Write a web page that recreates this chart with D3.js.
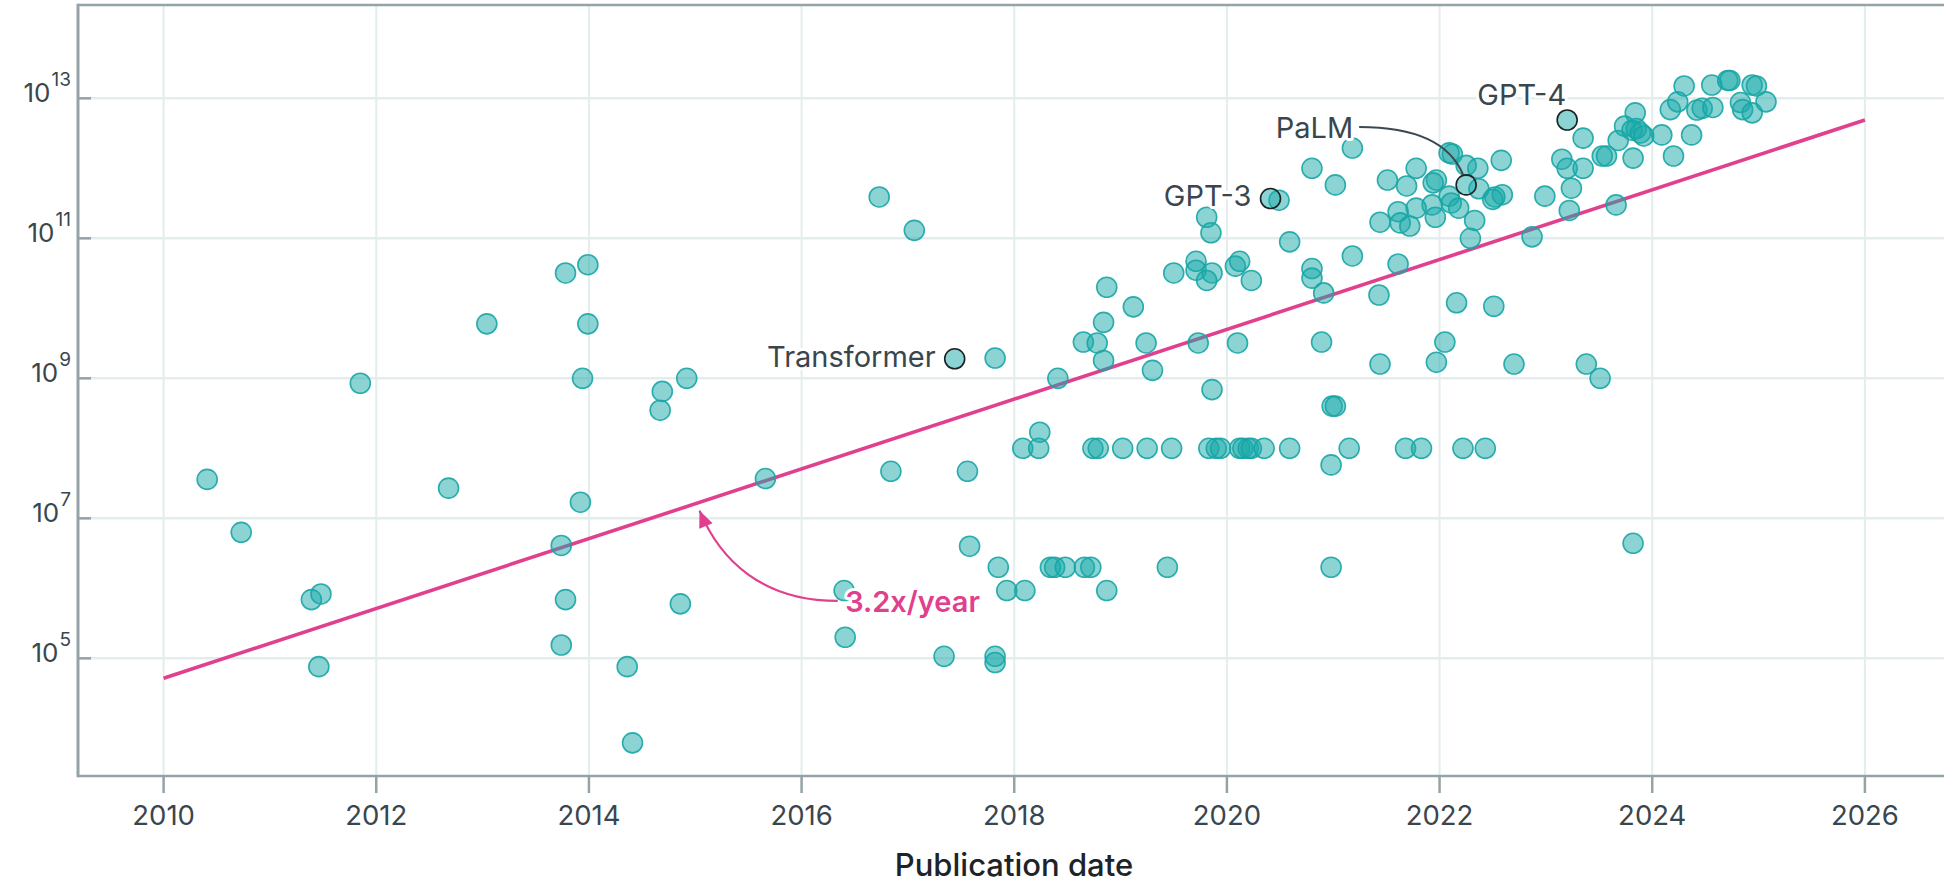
<!DOCTYPE html>
<html>
<head>
<meta charset="utf-8">
<script src="https://cdn.jsdelivr.net/npm/d3@7"></script>
<style>
  html, body { margin: 0; padding: 0; background: #ffffff; }
  svg { display: block; }
  text { font-family: Inter, Roboto, "Noto Sans", sans-serif; }
</style>
</head>
<body>
<svg id="chart" width="1944" height="885"></svg>
<script>
// ---------------- DATA ----------------
// Publication date (decimal year) and dataset size
const years = [
  2010.41, 2010.73, 2011.39, 2011.48, 2011.46, 2011.85, 2012.68, 2013.04,
  2013.78, 2013.99, 2013.99, 2013.94, 2013.92, 2013.74, 2013.78, 2013.74,
  2014.69, 2014.67, 2014.92, 2014.36, 2014.41, 2014.86, 2015.66, 2016.84,
  2016.40, 2016.41, 2016.73, 2017.06, 2017.56, 2017.58, 2017.85, 2017.93,
  2017.34, 2017.82, 2017.82, 2017.82, 2018.10,
  // 2e6 row
  2018.34, 2018.38, 2018.48, 2018.66, 2018.72, 2019.44, 2020.98, 2018.87,
  // 1e8 row
  2018.08, 2018.23, 2018.74, 2018.79, 2019.02, 2019.25, 2019.48, 2019.83,
  2019.90, 2019.94, 2020.12, 2020.15, 2020.20, 2020.23, 2020.35, 2020.59,
  2021.15, 2021.68, 2021.83, 2022.22, 2022.43,
  2018.24, 2020.98, 2018.41,
  2018.87, 2019.12, 2018.84, 2018.65, 2018.78, 2018.84, 2019.24, 2019.30,
  2019.73, 2020.10, 2019.86, 2019.50, 2019.71, 2019.71, 2019.86, 2019.81,
  2020.08, 2020.12, 2020.23, 2019.81, 2019.85, 2020.59, 2021.18, 2020.80,
  2020.80, 2020.91, 2020.89, 2020.99, 2021.02, 2020.49, 2020.80, 2021.02,
  2021.18, 2021.43, 2021.61, 2022.16, 2022.51, 2022.05, 2021.97, 2021.44,
  2022.70, 2023.38, 2023.51, 2023.82,
  // 2021-2023 cluster
  2021.51, 2021.69, 2021.78, 2022.09, 2022.12, 2022.25, 2022.36, 2022.58,
  2021.97, 2021.94, 2022.37, 2022.52, 2022.59, 2022.50, 2022.09, 2022.11,
  2022.18, 2021.93, 2021.96, 2021.78, 2021.61, 2021.63, 2021.72, 2021.44,
  2022.33, 2022.29, 2022.87, 2022.99,
  // 2023-2025 cluster
  2023.35, 2023.15, 2023.20, 2023.35, 2023.24, 2023.22, 2023.66, 2023.53,
  2023.57, 2023.68, 2023.74, 2023.84, 2023.81, 2023.85, 2023.89, 2023.92,
  2023.82, 2024.09, 2024.20, 2024.37, 2024.17, 2024.24, 2024.30, 2024.42,
  2024.47, 2024.57, 2024.56, 2024.71, 2024.73, 2024.83, 2024.85, 2024.94,
  2024.98, 2024.94, 2025.07
];
const values = [
  3.6e7, 6.3e6, 6.9e5, 8.3e5, 7.6e4, 8.5e8, 2.7e7, 6.0e9,
  3.2e10, 4.2e10, 6.0e9, 1.0e9, 1.7e7, 4.1e6, 6.9e5, 1.55e5,
  6.5e8, 3.5e8, 1.0e9, 7.6e4, 6.2e3, 6.0e5, 3.7e7, 4.7e7,
  9.3e5, 2.0e5, 3.9e11, 1.3e11, 4.7e7, 4.0e6, 2.0e6, 9.3e5,
  1.07e5, 1.07e5, 8.7e4, 1.95e9, 9.3e5,
  2.0e6, 2.0e6, 2.0e6, 2.0e6, 2.0e6, 2.0e6, 2.0e6, 9.3e5,
  1.0e8, 1.0e8, 1.0e8, 1.0e8, 1.0e8, 1.0e8, 1.0e8, 1.0e8,
  1.0e8, 1.0e8, 1.0e8, 1.0e8, 1.0e8, 1.0e8, 1.0e8, 1.0e8,
  1.0e8, 1.0e8, 1.0e8, 1.0e8, 1.0e8,
  1.7e8, 5.8e7, 1.0e9,
  2.0e10, 1.05e10, 6.3e9, 3.3e9, 3.2e9, 1.8e9, 3.2e9, 1.3e9,
  3.2e9, 3.2e9, 6.9e8, 3.2e10, 4.7e10, 3.5e10, 3.2e10, 2.5e10,
  4.0e10, 4.7e10, 2.5e10, 2.0e11, 1.2e11, 8.9e10, 5.6e10, 3.7e10,
  2.7e10, 1.66e10, 3.3e9, 4.0e8, 4.0e8, 3.5e11, 1.0e12, 5.8e11,
  1.95e12, 1.55e10, 4.3e10, 1.2e10, 1.07e10, 3.3e9, 1.7e9, 1.6e9,
  1.6e9, 1.6e9, 1.0e9, 4.4e6,
  6.8e11, 5.6e11, 1.0e12, 1.66e12, 1.6e12, 1.1e12, 1.0e12, 1.3e12,
  6.8e11, 6.2e11, 5.1e11, 3.9e11, 4.2e11, 3.6e11, 4.0e11, 3.2e11,
  2.7e11, 3.0e11, 2.0e11, 2.7e11, 2.4e11, 1.66e11, 1.5e11, 1.7e11,
  1.8e11, 1.0e11, 1.05e11, 4.0e11,
  2.7e12, 1.35e12, 1.0e12, 1.0e12, 5.2e11, 2.5e11, 3.0e11, 1.5e12,
  1.5e12, 2.5e12, 4.0e12, 6.2e12, 3.5e12, 3.7e12, 3.2e12, 2.9e12,
  1.4e12, 3.0e12, 1.5e12, 3.0e12, 6.9e12, 8.9e12, 1.5e13, 6.8e12,
  7.2e12, 7.4e12, 1.55e13, 1.8e13, 1.8e13, 8.7e12, 6.9e12, 1.55e13,
  1.5e13, 6.2e12, 8.9e12
];

// Highlighted models
const highlightNames  = ["Transformer", "GPT-3", "PaLM", "GPT-4"];
const highlightYears  = [2017.44, 2020.41, 2022.25, 2023.20];
const highlightValues = [1.9e9, 3.7e11, 5.8e11, 4.9e12];

// Trend line (3.2x per year)
const trendYears  = [2010, 2026];
const trendValues = [5.2e4, 4.9e12];
const trendLabel  = "3.2x/year";
// annotation: label anchor and arrow from label to line (data space)
const trendLabelPos  = [2016.41, 4.6e5];
const trendArrowFrom = [2016.34, 6.6e5];
const trendArrowTo   = [2015.04, 1.29e7];

// Axes
const xTickYears = [2010, 2012, 2014, 2016, 2018, 2020, 2022, 2024, 2026];
const yTickExponents = [5, 7, 9, 11, 13];
const xTitle = "Publication date";

// ---------------- CHART ----------------
(function () {
const mLeft = 78, mTop = 5, mBottom = 776, mRight = 1944;

const x = d3.scaleLinear().domain([2009.195, 2026.744]).range([mLeft, mRight]);
const y = d3.scaleLog().domain([2.084e3, 2.153e14]).range([mBottom, mTop]);

const svg = d3.select("#chart");
const axisColor = "#95a3a9";
const gridColor = "#e3eded";
const textColor = "#3a464e";
const pink = "#e0408d";

// Grid
const grid = svg.append("g");
grid.selectAll("line.vx").data(xTickYears).join("line")
  .attr("x1", d => x(d)).attr("x2", d => x(d))
  .attr("y1", mTop).attr("y2", mBottom)
  .attr("stroke", gridColor).attr("stroke-width", 2);
grid.selectAll("line.hy").data(yTickExponents).join("line")
  .attr("x1", mLeft).attr("x2", mRight)
  .attr("y1", d => y(Math.pow(10, d))).attr("y2", d => y(Math.pow(10, d)))
  .attr("stroke", gridColor).attr("stroke-width", 2.5);

// Frame: top, left, bottom
svg.append("line").attr("x1", mLeft).attr("x2", mRight).attr("y1", mTop).attr("y2", mTop)
  .attr("stroke", axisColor).attr("stroke-width", 2.5);
svg.append("line").attr("x1", mLeft).attr("x2", mLeft).attr("y1", mTop - 1.2).attr("y2", mBottom + 1.2)
  .attr("stroke", axisColor).attr("stroke-width", 3);
svg.append("line").attr("x1", mLeft).attr("x2", mRight).attr("y1", mBottom).attr("y2", mBottom)
  .attr("stroke", axisColor).attr("stroke-width", 2.5);

// X axis ticks & labels
const xa = svg.append("g");
xa.selectAll("line").data(xTickYears).join("line")
  .attr("x1", d => x(d)).attr("x2", d => x(d))
  .attr("y1", mBottom).attr("y2", mBottom + 17)
  .attr("stroke", axisColor).attr("stroke-width", 2.5);
xa.selectAll("text").data(xTickYears).join("text")
  .attr("x", d => x(d)).attr("y", 825)
  .attr("text-anchor", "middle")
  .attr("font-size", 27.5).attr("fill", textColor)
  .text(d => d);

// Y axis ticks & labels (10^n)
const ya = svg.append("g");
ya.selectAll("line").data(yTickExponents).join("line")
  .attr("x1", mLeft).attr("x2", mLeft + 13)
  .attr("y1", d => y(Math.pow(10, d))).attr("y2", d => y(Math.pow(10, d)))
  .attr("stroke", axisColor).attr("stroke-width", 2.5);
const yl = ya.selectAll("text").data(yTickExponents).join("text")
  .attr("x", 71).attr("y", d => y(Math.pow(10, d)) + 3.5)
  .attr("text-anchor", "end").attr("fill", textColor);
yl.append("tspan").attr("font-size", 26).text("10");
yl.append("tspan").attr("font-size", 19).attr("dx", 1).attr("dy", -15.5).text(d => d);

// X title
svg.append("text")
  .attr("x", (mLeft + mRight) / 2 + 3).attr("y", 876)
  .attr("text-anchor", "middle")
  .attr("font-size", 31).attr("font-weight", 500).attr("fill", "#1d2328")
  .text(xTitle);

// Trend line
svg.append("line")
  .attr("x1", x(trendYears[0])).attr("y1", y(trendValues[0]))
  .attr("x2", x(trendYears[1])).attr("y2", y(trendValues[1]))
  .attr("stroke", pink).attr("stroke-width", 3.6).attr("stroke-linecap", "butt");

// Points
const pts = years.map((yr, i) => ({ yr, v: values[i] }));
svg.append("g").selectAll("circle").data(pts).join("circle")
  .attr("cx", d => x(d.yr)).attr("cy", d => y(d.v)).attr("r", 10)
  .attr("fill", "rgb(25,170,170)").attr("fill-opacity", 0.5)
  .attr("stroke", "#17a5a5").attr("stroke-opacity", 0.9).attr("stroke-width", 1.6);

// Highlighted points
const hl = highlightNames.map((n, i) => ({ n, yr: highlightYears[i], v: highlightValues[i] }));
svg.append("g").selectAll("circle").data(hl).join("circle")
  .attr("cx", d => x(d.yr)).attr("cy", d => y(d.v)).attr("r", 10)
  .attr("fill", "rgb(25,170,170)").attr("fill-opacity", 0.5)
  .attr("stroke", "#1c2124").attr("stroke-width", 1.6);

// Arrow marker
const defs = svg.append("defs");
defs.append("marker")
  .attr("id", "arrow").attr("markerUnits", "userSpaceOnUse")
  .attr("markerWidth", 20).attr("markerHeight", 20)
  .attr("viewBox", "-16 -8 18 16").attr("refX", 0).attr("refY", 0)
  .attr("orient", "auto")
  .append("path").attr("d", "M0,0 L-15,-6.5 L-15,6.5 Z").attr("fill", pink);

// Trend annotation arrow
const a0 = [x(trendArrowFrom[0]), y(trendArrowFrom[1])];
const a1 = [x(trendArrowTo[0]), y(trendArrowTo[1])];
svg.append("path")
  .attr("d", `M${a0[0]},${a0[1]} C${a0[0] - 77},${a0[1]} ${a1[0] + 20},${a1[1] + 48} ${a1[0]},${a1[1]}`)
  .attr("fill", "none").attr("stroke", pink).attr("stroke-width", 2.2)
  .attr("marker-end", "url(#arrow)");

// Trend label
svg.append("text")
  .attr("x", x(trendLabelPos[0])).attr("y", y(trendLabelPos[1]))
  .attr("font-size", 29).attr("font-weight", 600).attr("fill", pink)
  .attr("stroke", "#fff").attr("stroke-width", 6).attr("stroke-linejoin", "round")
  .attr("paint-order", "stroke")
  .text(trendLabel);

// PaLM connector
const palm = hl[2];
const px = x(palm.yr), py = y(palm.v);
svg.append("path")
  .attr("d", `M${px - 107},${py - 58} C${px - 57},${py - 58} ${px - 17},${py - 45} ${px - 3},${py - 10}`)
  .attr("fill", "none").attr("stroke", "#3d4950").attr("stroke-width", 2);

// Labels
const labelOffsets = {
  "Transformer": { dx: -19, dy: 8, anchor: "end" },
  "GPT-3": { dx: -19, dy: 7, anchor: "end" },
  "PaLM": { dx: -113, dy: -47, anchor: "end" },
  "GPT-4": { dx: -1, dy: -15, anchor: "end" }
};
svg.append("g").selectAll("text").data(hl).join("text")
  .attr("x", d => x(d.yr) + labelOffsets[d.n].dx)
  .attr("y", d => y(d.v) + labelOffsets[d.n].dy)
  .attr("text-anchor", d => labelOffsets[d.n].anchor)
  .attr("font-size", 29).attr("fill", textColor)
  .attr("stroke", "#fff").attr("stroke-width", 6).attr("stroke-linejoin", "round")
  .attr("paint-order", "stroke")
  .text(d => d.n);
})();
</script>
</body>
</html>
